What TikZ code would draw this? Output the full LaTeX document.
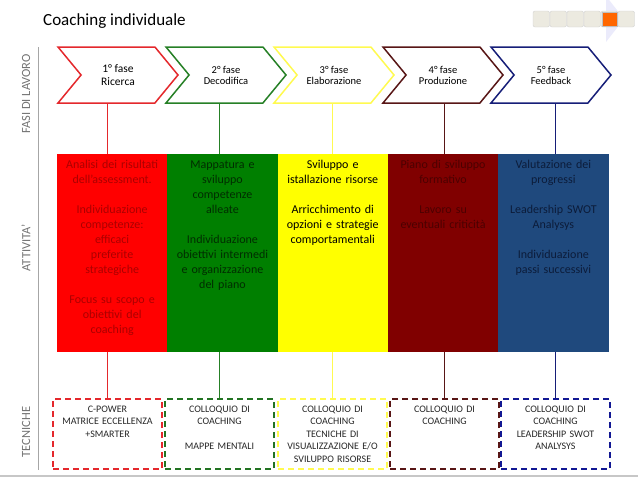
\documentclass[tikz,border=0pt]{standalone}
\usepackage{fontspec}
\setmainfont{Carlito}
\usetikzlibrary{shapes.symbols}

\definecolor{rossoF}{RGB}{228,40,44}
\definecolor{verdeF}{RGB}{38,128,38}
\definecolor{gialloF}{RGB}{255,250,80}
\definecolor{marroneF}{RGB}{88,22,22}
\definecolor{bluF}{RGB}{22,30,120}
\definecolor{rossoA}{RGB}{255,0,0}
\definecolor{verdeA}{RGB}{0,127,0}
\definecolor{gialloA}{RGB}{255,255,0}
\definecolor{marroneA}{RGB}{128,0,0}
\definecolor{bluA}{RGB}{31,73,125}
\definecolor{rossoT}{RGB}{170,0,0}
\definecolor{verdeT}{RGB}{0,45,0}
\definecolor{marroneT}{RGB}{75,0,0}
\definecolor{bluT}{RGB}{12,28,58}
\definecolor{grigioL}{RGB}{115,115,115}

\begin{document}
\begin{tikzpicture}[x=1pt,y=-1pt,
   fase/.style={signal, signal to=east, signal from=west, signal pointer angle=101,
      draw=#1, line width=1.5pt, fill=white, minimum width=120pt, minimum height=56pt,
      inner sep=0pt, align=center, font=\fontsize{10.5}{11}\selectfont},
   attivita/.style={fill=#1, minimum width=110.3pt, minimum height=198pt, inner sep=0pt},
   testo/.style={text=#1, text width=108pt, align=center, anchor=north, inner sep=0pt,
      font=\fontsize{12}{15}\selectfont, execute at begin node=\strut},
   tecnica/.style={draw=#1, dash pattern=on 6pt off 4pt, line width=1.6pt,
      minimum width=109pt, minimum height=70pt, inner sep=0pt},
   tectesto/.style={text width=108pt, align=center, anchor=north, inner sep=0pt,
      text=black!85, font=\fontsize{10}{12.5}\selectfont, execute at begin node=\strut},
   stem/.style={line width=1.2pt},
   lato/.style={rotate=90, text=grigioL, font=\fontsize{12.5}{14}\selectfont}]
   \useasboundingbox (0,0) rectangle (638,479);

   % Title and navigation bar
   \node[anchor=base west, inner sep=0pt, font=\fontsize{17}{20}\selectfont] (titolo)
      at (43,26) {Coaching individuale};
   \fill[black!20!blue!8!white] (606,-4) -- (624,19) -- (606,42) -- cycle;
   \foreach \i in {0,...,5}
      \draw[fill={rgb,255:red,236;green,234;blue,224}, draw=black!18, rounded corners=2pt]
         (533+17*\i,11) rectangle ++(16.5,16);
   \draw[fill={rgb,255:red,255;green,102;blue,0}, draw=black!25] (602.5,12) rectangle (617,26);

   % Side labels
   \draw[black!35, line width=0.8pt] (38,47) -- (38,470);
   \node[lato] (lfasi) at (26,94) {FASI DI LAVORO};
   \node[lato] (latt) at (26,248) {ATTIVITA’};
   \node[lato] (ltec) at (26,432) {TECNICHE};
   \draw[black!22, line width=2pt] (0,476) -- (638,476);

   % Phases
   \node[fase=rossoF, font=\fontsize{11.5}{13}\selectfont] (f1) at (118,75) {1° fase\\Ricerca};
   \node[fase=verdeF] (f2) at (226,75) {2° fase\\Decodifica};
   \node[fase=gialloF] (f3) at (334,75) {3° fase\\Elaborazione};
   \node[fase=marroneF] (f4) at (443,75) {4° fase\\Produzione};
   \node[fase=bluF] (f5) at (551,75) {5° fase\\Feedback};

   % Activities
   \node[attivita=rossoA] (a1) at (112.15,253) {};
   \node[attivita=verdeA] (a2) at (222.45,253) {};
   \node[attivita=gialloA] (a3) at (332.75,253) {};
   \node[attivita=marroneA] (a4) at (443.05,253) {};
   \node[attivita=bluA] (a5) at (553.35,253) {};

   \node[testo=rossoT] (t1) at ([yshift=-3.5pt]a1.north)
      {Analisi dei risultati\\dell’assessment.\\[15pt]Individuazione\\competenze:\\efficaci\\preferite\\strategiche\\[15pt]Focus su scopo e\\obiettivi del\\coaching};
   \node[testo=verdeT] (t2) at ([yshift=-3.5pt]a2.north)
      {Mappatura e\\sviluppo\\competenze\\alleate\\[15pt]Individuazione\\obiettivi intermedi\\e organizzazione\\del piano};
   \node[testo=black] (t3) at ([yshift=-3.5pt]a3.north)
      {Sviluppo e\\istallazione risorse\\[15pt]Arricchimento di\\opzioni e strategie\\comportamentali};
   \node[testo=marroneT] (t4) at ([yshift=-3.5pt]a4.north)
      {Piano di sviluppo\\formativo\\[15pt]Lavoro su\\eventuali criticità};
   \node[testo=bluT] (t5) at ([yshift=-3.5pt]a5.north)
      {Valutazione dei\\progressi\\[15pt]Leadership SWOT\\Analysys\\[15pt]Individuazione\\passi successivi};

   % Techniques
   \node[tecnica=rossoF] (c1) at (107.5,434) {};
   \node[tecnica=verdeF!90!black] (c2) at (219.5,434) {};
   \node[tecnica=gialloF] (c3) at (332.5,434) {};
   \node[tecnica=marroneF] (c4) at (444.5,434) {};
   \node[tecnica=bluF!80!blue] (c5) at (555.5,434) {};

   \node[tectesto] (d1) at ([yshift=-5pt]c1.north) {C-POWER\\MATRICE ECCELLENZA\\+SMARTER};
   \node[tectesto] (d2) at ([yshift=-5pt]c2.north) {COLLOQUIO DI\\COACHING\\[12.5pt]MAPPE MENTALI};
   \node[tectesto] (d3) at ([yshift=-5pt]c3.north)
      {COLLOQUIO DI\\COACHING\\TECNICHE DI\\VISUALIZZAZIONE E/O\\SVILUPPO RISORSE};
   \node[tectesto] (d4) at ([yshift=-5pt]c4.north) {COLLOQUIO DI\\COACHING};
   \node[tectesto] (d5) at ([yshift=-5pt]c5.north) {COLLOQUIO DI\\COACHING\\LEADERSHIP SWOT\\ANALYSYS};

   % Stems
   \foreach \n/\col in {1/rossoF,2/verdeF,3/gialloF,4/marroneF,5/bluF} {
      \draw[stem, \col] (c\n.north |- f\n.south) -- (c\n.north |- a\n.north);
      \draw[stem, \col] (c\n.north |- a\n.south) -- (c\n.north);
   }
\end{tikzpicture}
\end{document}
